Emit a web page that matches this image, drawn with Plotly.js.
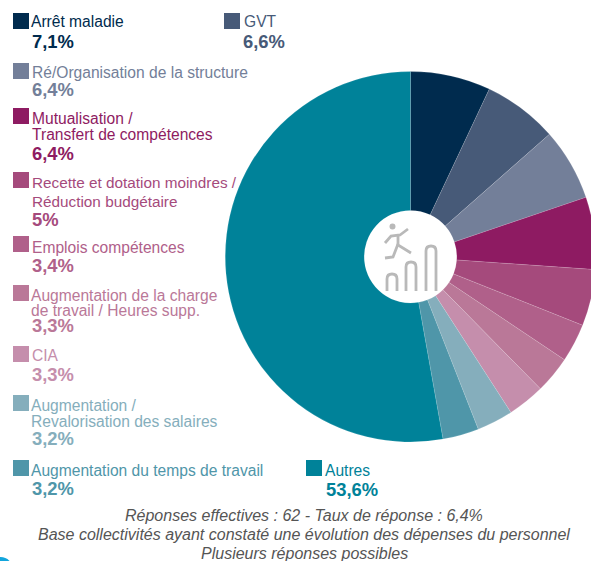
<!DOCTYPE html>
<html><head><meta charset="utf-8">
<script src="https://cdn.plot.ly/plotly-3.0.1.min.js"></script>
<style>html,body{margin:0;padding:0;background:#fff;overflow:hidden;width:591px;height:561px}#c{width:591px;height:561px;overflow:hidden}</style>
</head><body><div id="c"></div>
<script>
const categories = ["Arrêt maladie","GVT","Ré/Organisation de la structure","Mutualisation / Transfert de compétences","Recette et dotation moindres / Réduction budgétaire","Emplois compétences","Augmentation de la charge de travail / Heures supp.","CIA","Augmentation / Revalorisation des salaires","Augmentation du temps de travail","Autres"];
const values = [7.1,6.6,6.4,6.4,5,3.4,3.3,3.3,3.2,3.2,53.6];
const valueLabels = ["7,1%","6,6%","6,4%","6,4%","5%","3,4%","3,3%","3,3%","3,2%","3,2%","53,6%"];
const colors = ["#002b4e","#475a78","#737f99","#8e1b62","#a54a7c","#b0608a","#ba7898","#c58eac","#85aebc","#4f96a9","#008299"];
const labelLines = [["Arrêt maladie"],["GVT"],["Ré/Organisation de la structure"],["Mutualisation /","Transfert de compétences"],["Recette et dotation moindres /","Réduction budgétaire"],["Emplois compétences"],["Augmentation de la charge","de travail / Heures supp."],["CIA"],["Augmentation /","Revalorisation des salaires"],["Augmentation du temps de travail"],["Autres"]];
const footerLines = ["Réponses effectives : 62 - Taux de réponse : 6,4%","Base collectivités ayant constaté une évolution des dépenses du personnel","Plusieurs réponses possibles"];

// layout, in pixels of the page
const W = 601, H = 561;
const swatch = [[13,13],[224,13],[13,63],[13,108],[13,172],[13,236],[13,285],[13,346],[13,395],[13,460],[306,460]];
const lineX = [31,244,32,32,32,32,31,32,31,31,325];
const valueX = [32,243,32,32,32,32,32,32,32,32,326];
const lineY = [[22],[22],[72],[118,134],[183,201],[247],[295,310],[356],[405,421],[470],[470]];
const valueY = [42,42,90,153,220,265,325,374,439,488,489];
const labelSize = [15.6,15.6,15.6,15.6,15.3,15.6,15.6,15.6,15.6,15.6,15.6];
const footerY = [515,534,553];
const px = x => x / W, py = y => 1 - y / H;
const FONT = "Liberation Sans, Arial, sans-serif";

const annotations = [], shapes = [];
function txt(x, y, t, size, color, anchor) {
  annotations.push({xref:"paper",yref:"paper",x:px(x),y:py(y),text:t,showarrow:false,xanchor:anchor||"left",yanchor:"middle",
    font:{family:FONT,size:size,color:color},borderpad:0,borderwidth:0});
}
categories.forEach((c,i)=>{
  shapes.push({type:"rect",xref:"paper",yref:"paper",x0:px(swatch[i][0]),x1:px(swatch[i][0]+16),y0:py(swatch[i][1]),y1:py(swatch[i][1]+16),fillcolor:colors[i],line:{width:0}});
  labelLines[i].forEach((l,j)=>txt(lineX[i],lineY[i][j],l,labelSize[i],colors[i]));
  txt(valueX[i],valueY[i],"<b>"+valueLabels[i]+"</b>",18.4,colors[i]);
});
footerLines.forEach((l,i)=>txt(304,footerY[i],"<i>"+l+"</i>",16,"#555555","center"));

// centre icon, in pixels of the page
const G = "#b9b9b9";
const pt = (x,y)=>px(x).toFixed(5)+","+py(y).toFixed(5);
function poly(pts){return "M"+pts.map(p=>pt(p[0],p[1])).join(" L");}
function bar(x0,x1,top,bottom){
  const k=(x1-x0)/2;
  return "M"+pt(x0,bottom)+" L"+pt(x0,top+k)+" Q"+pt(x0,top)+" "+pt(x0+k,top)+" Q"+pt(x1,top)+" "+pt(x1,top+k)+" L"+pt(x1,bottom);
}
[
 bar(387,397,274,291),
 bar(406,416,262,291),
 bar(426,436,246,291),
 poly([[385,243],[391,236],[400,235],[408,229]]),
 poly([[398,236],[398,245],[411,253]]),
 poly([[398,244],[393,257],[385,258]])
].forEach(p=>shapes.push({type:"path",xref:"paper",yref:"paper",path:p,fillcolor:"rgba(0,0,0,0)",line:{color:G,width:2.8}}));
shapes.push({type:"circle",xref:"paper",yref:"paper",x0:px(389.5),x1:px(395.5),y0:py(223.5),y1:py(229.5),fillcolor:G,line:{width:0}});
// cut-off mark in the bottom-left corner
shapes.push({type:"circle",xref:"paper",yref:"paper",x0:px(-12),x1:px(13),y0:py(557),y1:py(582),fillcolor:"#12a5dc",line:{width:0}});

Plotly.newPlot("c",[{
  type:"pie",labels:categories,values:values,sort:false,direction:"clockwise",rotation:0,hole:0.25,
  marker:{colors:colors,line:{color:"rgba(255,255,255,0.25)",width:0.5}},
  textinfo:"none",hoverinfo:"label+percent",
  domain:{x:[px(225),px(596)],y:[py(442),py(71.5)]}
}],{
  width:W,height:H,margin:{l:0,r:0,t:0,b:0},showlegend:false,paper_bgcolor:"#fff",
  annotations:annotations,shapes:shapes
},{displayModeBar:false,staticPlot:true});
</script></body></html>
